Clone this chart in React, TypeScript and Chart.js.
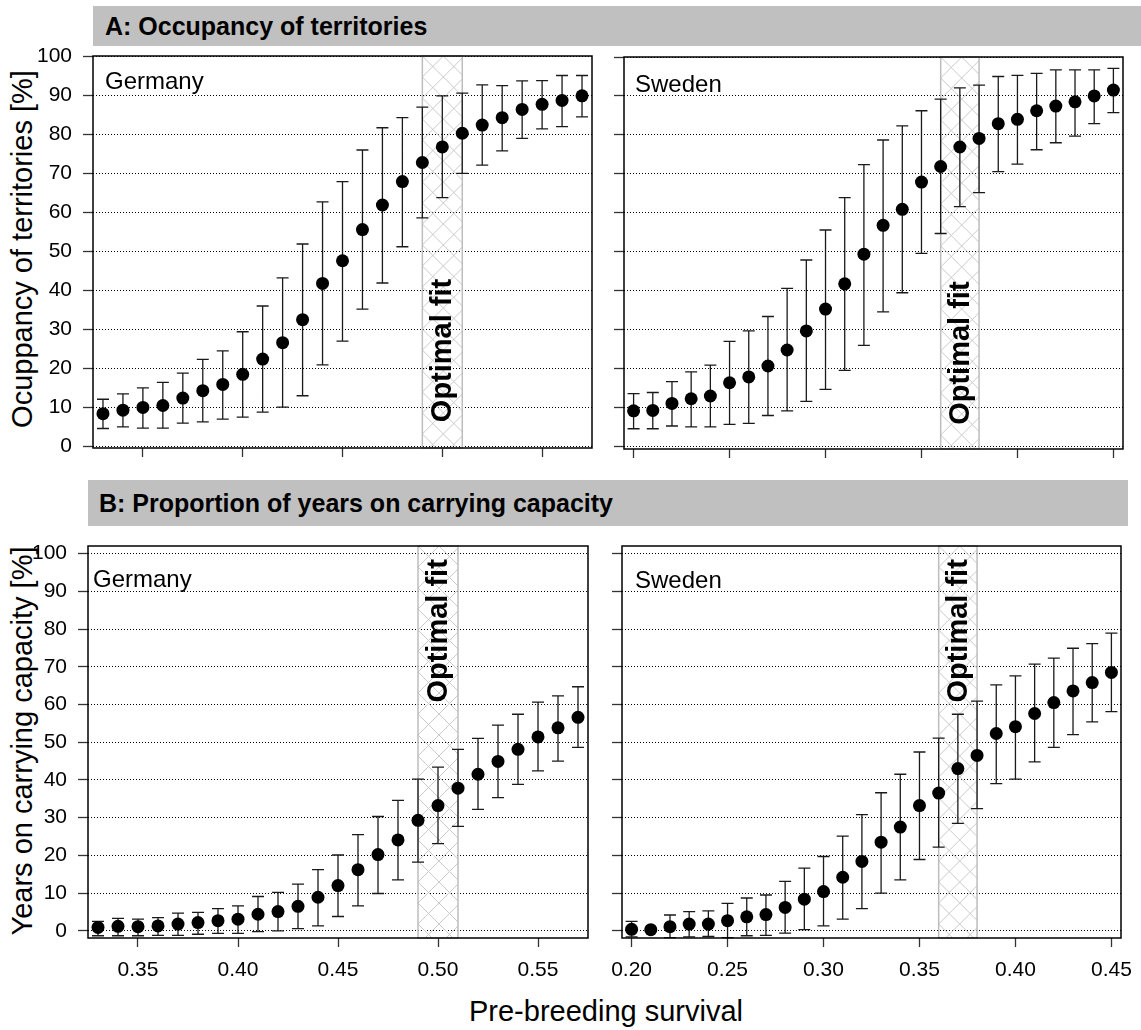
import React, { useEffect, useRef } from 'react';
import { Chart, registerables } from 'chart.js';

Chart.register(...registerables);

const FONT = '"Liberation Sans", Arial, Helvetica, sans-serif';

// Pre-breeding survival values simulated for each population
const germanySurvival = [
  0.33, 0.34, 0.35, 0.36, 0.37, 0.38, 0.39, 0.40, 0.41, 0.42, 0.43, 0.44, 0.45,
  0.46, 0.47, 0.48, 0.49, 0.50, 0.51, 0.52, 0.53, 0.54, 0.55, 0.56, 0.57,
];
const swedenSurvival = [
  0.20, 0.21, 0.22, 0.23, 0.24, 0.25, 0.26, 0.27, 0.28, 0.29, 0.30, 0.31, 0.32,
  0.33, 0.34, 0.35, 0.36, 0.37, 0.38, 0.39, 0.40, 0.41, 0.42, 0.43, 0.44, 0.45,
];

// A: occupancy of territories [%] (mean, upper, lower)
const germanyOccMean = [8.3, 9.2, 9.9, 10.4, 12.3, 14.2, 15.8, 18.4, 22.3, 26.5, 32.4, 41.7, 47.5, 55.5, 61.8, 67.8, 72.7, 76.7, 80.2, 82.3, 84.2, 86.3, 87.6, 88.6, 89.8];
const germanyOccUpper = [12.0, 13.4, 14.9, 16.3, 18.7, 22.2, 24.4, 29.3, 35.9, 43.1, 51.8, 62.6, 67.8, 75.9, 81.6, 84.2, 86.9, 89.8, 90.5, 92.6, 92.4, 93.6, 93.7, 95.0, 95.0];
const germanyOccLower = [4.5, 4.9, 4.6, 4.6, 5.9, 6.2, 6.9, 7.4, 8.7, 10.0, 12.9, 20.8, 26.9, 35.1, 41.8, 51.1, 58.5, 63.7, 69.9, 72.0, 75.7, 78.9, 81.3, 81.9, 84.4];

const swedenOccMean = [9.2, 9.3, 11.1, 12.3, 13.0, 16.4, 17.9, 20.7, 24.8, 29.7, 35.3, 41.8, 49.4, 56.8, 60.9, 67.9, 71.9, 76.9, 79.1, 82.9, 84.0, 86.2, 87.4, 88.5, 90.0, 91.5];
const swedenOccUpper = [13.6, 13.9, 16.7, 19.2, 20.9, 27.0, 29.7, 33.4, 40.6, 47.9, 55.6, 63.9, 72.4, 78.7, 82.3, 86.2, 89.2, 92.1, 92.8, 95.0, 95.3, 95.8, 96.7, 96.7, 96.7, 97.1];
const swedenOccLower = [4.6, 4.6, 5.3, 5.1, 5.1, 5.7, 6.0, 8.0, 9.2, 11.6, 14.7, 19.6, 26.0, 34.6, 39.5, 49.6, 54.7, 61.6, 65.2, 70.6, 72.5, 76.2, 78.0, 79.7, 82.9, 85.7];

// B: proportion of years on carrying capacity [%] (mean, upper, lower)
const germanyCapMean = [0.9, 1.2, 1.1, 1.3, 1.8, 2.2, 2.7, 3.1, 4.4, 5.1, 6.5, 8.9, 12.0, 16.2, 20.2, 24.1, 29.3, 33.2, 37.8, 41.5, 44.9, 48.1, 51.4, 53.8, 56.6];
const germanyCapUpper = [2.5, 3.3, 3.1, 3.5, 4.7, 4.9, 5.9, 6.6, 9.1, 10.2, 12.4, 16.2, 20.1, 25.5, 30.3, 34.6, 40.2, 43.4, 48.1, 51.0, 54.5, 57.4, 60.6, 62.3, 64.7];
const germanyCapLower = [-1.3, -1.3, -1.3, -1.2, -1.2, -0.9, -0.7, -0.7, -0.2, 0.0, 0.6, 1.3, 3.8, 6.6, 9.9, 13.5, 18.2, 23.1, 27.7, 32.2, 35.3, 38.8, 42.4, 45.0, 48.6];

const swedenCapMean = [0.4, 0.3, 1.1, 1.8, 1.8, 2.7, 3.7, 4.3, 6.2, 8.4, 10.4, 14.2, 18.4, 23.5, 27.5, 33.2, 36.5, 43.0, 46.5, 52.3, 54.1, 57.6, 60.5, 63.6, 65.8, 68.5];
const swedenCapUpper = [2.5, 0.6, 4.2, 5.1, 5.3, 7.3, 8.7, 9.5, 13.1, 16.6, 19.7, 25.1, 30.8, 36.6, 41.5, 47.4, 51.1, 57.4, 60.9, 65.2, 67.6, 70.7, 72.3, 74.9, 76.1, 78.9];
const swedenCapLower = [-1.6, 0.0, -1.8, -1.6, -1.5, -1.8, -1.3, -1.2, -0.6, 0.3, 1.3, 3.1, 5.9, 10.0, 13.5, 18.9, 22.2, 28.5, 32.4, 39.0, 40.2, 44.8, 48.6, 52.0, 55.4, 58.1];

// Tick values
const percentTicks = [0, 10, 20, 30, 40, 50, 60, 70, 80, 90, 100];
const germanyTicks = [0.35, 0.40, 0.45, 0.50, 0.55];
const swedenTicks = [0.20, 0.25, 0.30, 0.35, 0.40, 0.45];

// Survival range giving the best fit
const germanyOptimal = [0.49, 0.51];
const swedenOptimal = [0.36, 0.38];

type PanelProps = {
  label: string;
  xs: number[];
  mean: number[];
  upper: number[];
  lower: number[];
  xTicks: number[];
  xMin: number;
  xMax: number;
  yMin: number;
  yMax: number;
  band: number[];
  bandTextY: number;
  box: { l: number; t: number; r: number; b: number };
  yAxisWidth: number;
  xAxisHeight: number;
  padTop: number;
  padRight: number;
  showYLabels: boolean;
  showXLabels: boolean;
  labelDx: number;
  labelDy: number;
};

function Panel(p: PanelProps) {
  const ref = useRef<HTMLCanvasElement | null>(null);
  const left = p.box.l - p.yAxisWidth;
  const top = p.box.t - p.padTop;
  const width = p.yAxisWidth + (p.box.r - p.box.l) + p.padRight;
  const height = p.padTop + (p.box.b - p.box.t) + p.xAxisHeight;

  useEffect(() => {
    if (!ref.current) return;

    const decor = {
      id: 'panelDecor',
      beforeDatasetsDraw(chart: any) {
        const { ctx, chartArea: a, scales } = chart;
        const x = scales.x;
        const y = scales.y;
        const bx0 = x.getPixelForValue(p.band[0]);
        const bx1 = x.getPixelForValue(p.band[1]);
        const bw = bx1 - bx0;
        const h = a.bottom - a.top;

        // cross-hatched "optimal fit" band
        ctx.save();
        ctx.beginPath();
        ctx.rect(bx0, a.top, bw, h);
        ctx.clip();
        ctx.strokeStyle = '#cacaca';
        ctx.lineWidth = 1;
        const step = 21;
        ctx.beginPath();
        const start = -Math.ceil((h + step) / step) * step;
        for (let c = start; c <= bw + h + step; c += step) {
          ctx.moveTo(bx0 + c, a.top);
          ctx.lineTo(bx0 + c + h, a.bottom);
          ctx.moveTo(bx0 + c, a.top);
          ctx.lineTo(bx0 + c - h, a.bottom);
        }
        ctx.stroke();
        ctx.restore();

        ctx.save();
        ctx.strokeStyle = '#bdbdbd';
        ctx.lineWidth = 1.5;
        ctx.strokeRect(bx0, a.top, bw, h);
        ctx.restore();

        // band caption
        ctx.save();
        ctx.translate((bx0 + bx1) / 2, y.getPixelForValue(p.bandTextY));
        ctx.rotate(-Math.PI / 2);
        ctx.font = `bold 29px ${FONT}`;
        ctx.fillStyle = '#000';
        ctx.textAlign = 'center';
        ctx.textBaseline = 'middle';
        ctx.fillText('Optimal fit', 0, 1);
        ctx.restore();

        // error bars
        ctx.save();
        ctx.strokeStyle = '#1a1a1a';
        ctx.lineWidth = 1.3;
        ctx.beginPath();
        for (let i = 0; i < p.xs.length; i++) {
          const px = x.getPixelForValue(p.xs[i]);
          const pu = y.getPixelForValue(p.upper[i]);
          const pl = y.getPixelForValue(p.lower[i]);
          ctx.moveTo(px, pu);
          ctx.lineTo(px, pl);
          ctx.moveTo(px - 6, pu);
          ctx.lineTo(px + 6, pu);
          ctx.moveTo(px - 6, pl);
          ctx.lineTo(px + 6, pl);
        }
        ctx.stroke();
        ctx.restore();
      },
      afterDraw(chart: any) {
        const { ctx, chartArea: a } = chart;
        ctx.save();
        ctx.strokeStyle = '#000';
        ctx.lineWidth = 1.5;
        ctx.strokeRect(a.left, a.top, a.right - a.left, a.bottom - a.top);
        ctx.font = `24px ${FONT}`;
        ctx.fillStyle = '#000';
        ctx.textAlign = 'left';
        ctx.textBaseline = 'alphabetic';
        ctx.fillText(p.label, a.left + p.labelDx, a.top + p.labelDy);
        ctx.restore();
      },
    };

    const chart = new Chart(ref.current, {
      type: 'scatter',
      data: {
        datasets: [
          {
            data: p.xs.map((v, i) => ({ x: v, y: p.mean[i] })),
            pointRadius: 6.5,
            pointHoverRadius: 6.5,
            backgroundColor: '#000',
            borderColor: '#000',
            borderWidth: 0,
          },
        ],
      },
      options: {
        animation: false,
        responsive: false,
        devicePixelRatio: 1,
        events: [],
        layout: { padding: { top: p.padTop, right: p.padRight, left: 0, bottom: 0 } },
        plugins: { legend: { display: false }, tooltip: { enabled: false } },
        scales: {
          x: {
            type: 'linear',
            position: 'bottom',
            min: p.xMin,
            max: p.xMax,
            afterBuildTicks: (s: any) => {
              s.ticks = p.xTicks.map((v) => ({ value: v }));
            },
            afterFit: (s: any) => {
              s.height = p.xAxisHeight;
              s.paddingLeft = 0;
              s.paddingRight = 0;
            },
            grid: {
              drawOnChartArea: false,
              drawTicks: true,
              tickLength: 9,
              tickColor: '#333',
              tickWidth: 1.3,
            },
            border: { display: false },
            ticks: {
              display: p.showXLabels,
              padding: 11,
              color: '#000',
              font: { family: FONT, size: 21 },
              maxRotation: 0,
              autoSkip: false,
              callback: (v: any) => Number(v).toFixed(2),
            },
          },
          y: {
            type: 'linear',
            position: 'left',
            min: p.yMin,
            max: p.yMax,
            afterBuildTicks: (s: any) => {
              s.ticks = percentTicks.map((v) => ({ value: v }));
            },
            afterFit: (s: any) => {
              s.width = p.yAxisWidth;
              s.paddingTop = 0;
              s.paddingBottom = 0;
            },
            grid: {
              drawOnChartArea: true,
              color: '#000',
              lineWidth: 1,
              drawTicks: true,
              tickLength: 10,
              tickColor: '#333',
              tickWidth: 1.3,
              tickBorderDash: [],
            },
            border: { display: false, dash: [1, 2] },
            ticks: {
              display: p.showYLabels,
              padding: 11,
              color: '#000',
              font: { family: FONT, size: 21 },
              autoSkip: false,
              callback: (v: any) => String(v),
            },
          },
        },
      },
      plugins: [decor],
    } as any);

    return () => chart.destroy();
  }, []);

  return (
    <canvas
      ref={ref}
      width={width}
      height={height}
      style={{ position: 'absolute', left, top, width, height }}
    />
  );
}

const headerStyle: React.CSSProperties = {
  position: 'absolute',
  background: '#c0c0c0',
  fontFamily: FONT,
  fontWeight: 'bold',
  fontSize: 25,
  color: '#000',
  boxSizing: 'border-box',
  whiteSpace: 'nowrap',
};

function VerticalTitle({ text, cx, cy }: { text: string; cx: number; cy: number }) {
  const w = 520;
  const h = 34;
  return (
    <div
      style={{
        position: 'absolute',
        left: cx - w / 2,
        top: cy - h / 2,
        width: w,
        height: h,
        lineHeight: `${h}px`,
        textAlign: 'center',
        fontFamily: FONT,
        fontSize: 29,
        color: '#000',
        transform: 'rotate(-90deg)',
        transformOrigin: 'center center',
        whiteSpace: 'nowrap',
      }}
    >
      {text}
    </div>
  );
}

export default function App() {
  return (
    <div
      style={{
        position: 'absolute',
        left: 0,
        top: 0,
        width: 1141,
        height: 1030,
        background: '#fff',
        overflow: 'hidden',
      }}
    >
      <div style={{ ...headerStyle, left: 93, top: 6, width: 1048, height: 40, lineHeight: '40px', paddingLeft: 12 }}>
        A: Occupancy of territories
      </div>
      <div style={{ ...headerStyle, left: 88, top: 480, width: 1040, height: 46, lineHeight: '46px', paddingLeft: 11 }}>
        B: Proportion of years on carrying capacity
      </div>

      <VerticalTitle text="Ocuppancy of territories [%]" cx={22} cy={249} />
      <VerticalTitle text="Years on carrying capacity [%]" cx={22} cy={741} />

      <div
        style={{
          position: 'absolute',
          left: 306,
          top: 994,
          width: 600,
          height: 34,
          lineHeight: '34px',
          textAlign: 'center',
          fontFamily: FONT,
          fontSize: 29,
          color: '#000',
        }}
      >
        Pre-breeding survival
      </div>

      <Panel
        label="Germany"
        xs={germanySurvival}
        mean={germanyOccMean}
        upper={germanyOccUpper}
        lower={germanyOccLower}
        xTicks={germanyTicks}
        xMin={0.325}
        xMax={0.575}
        yMin={-0.5}
        yMax={100}
        band={germanyOptimal}
        bandTextY={24.5}
        box={{ l: 93, t: 56, r: 592, b: 448 }}
        yAxisWidth={60}
        xAxisHeight={12}
        padTop={10}
        padRight={10}
        showYLabels={true}
        showXLabels={false}
        labelDx={12}
        labelDy={33}
      />
      <Panel
        label="Sweden"
        xs={swedenSurvival}
        mean={swedenOccMean}
        upper={swedenOccUpper}
        lower={swedenOccLower}
        xTicks={swedenTicks}
        xMin={0.195}
        xMax={0.455}
        yMin={-0.6}
        yMax={100}
        band={swedenOptimal}
        bandTextY={24}
        box={{ l: 624, t: 57, r: 1123, b: 449 }}
        yAxisWidth={12}
        xAxisHeight={12}
        padTop={10}
        padRight={10}
        showYLabels={false}
        showXLabels={false}
        labelDx={11}
        labelDy={35}
      />
      <Panel
        label="Germany"
        xs={germanySurvival}
        mean={germanyCapMean}
        upper={germanyCapUpper}
        lower={germanyCapLower}
        xTicks={germanyTicks}
        xMin={0.325}
        xMax={0.575}
        yMin={-1.9}
        yMax={102}
        band={germanyOptimal}
        bandTextY={79.5}
        box={{ l: 88, t: 546, r: 588, b: 938 }}
        yAxisWidth={60}
        xAxisHeight={55}
        padTop={10}
        padRight={10}
        showYLabels={true}
        showXLabels={true}
        labelDx={5}
        labelDy={41}
      />
      <Panel
        label="Sweden"
        xs={swedenSurvival}
        mean={swedenCapMean}
        upper={swedenCapUpper}
        lower={swedenCapLower}
        xTicks={swedenTicks}
        xMin={0.195}
        xMax={0.455}
        yMin={-1.9}
        yMax={102}
        band={swedenOptimal}
        bandTextY={79.5}
        box={{ l: 622, t: 546, r: 1121, b: 938 }}
        yAxisWidth={12}
        xAxisHeight={55}
        padTop={10}
        padRight={20}
        showYLabels={false}
        showXLabels={true}
        labelDx={13}
        labelDy={42}
      />
    </div>
  );
}
